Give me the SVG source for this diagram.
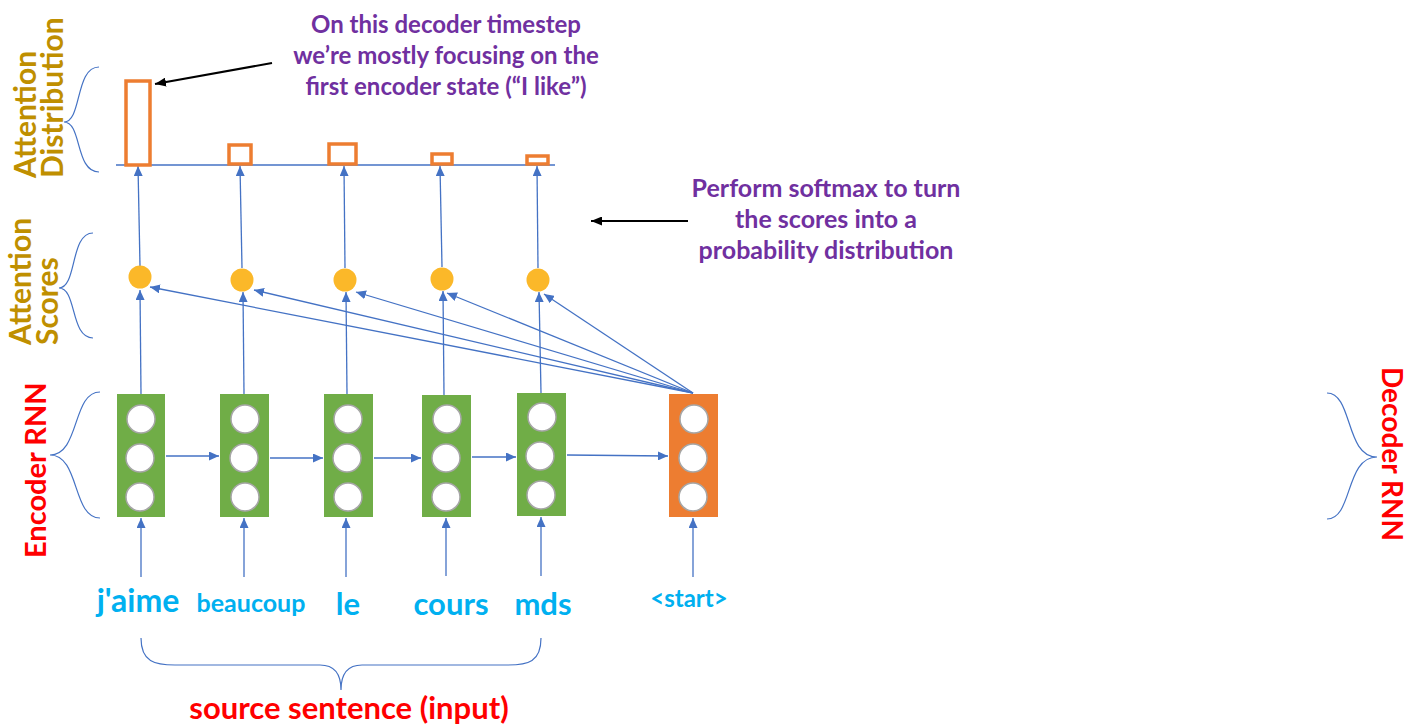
<svg xmlns="http://www.w3.org/2000/svg" width="1412" height="727" viewBox="0 0 1412 727">
<defs>
<marker id="ab" markerUnits="userSpaceOnUse" markerWidth="10" markerHeight="9" refX="10" refY="4.5" orient="auto"><path d="M0,0 L10,4.5 L0,9 z" fill="#4472C4"/></marker>
<marker id="ak" markerUnits="userSpaceOnUse" markerWidth="11" markerHeight="9" refX="11" refY="4.5" orient="auto"><path d="M0,0 L11,4.5 L0,9 z" fill="#000"/></marker>
<style>
.enc{fill:#70AD47}
.dec{fill:#ED7D31}
.cell{fill:#fff;stroke:#A6A6A6;stroke-width:1.5}
.dot{fill:#FBB829}
.bar{fill:#fff;stroke:#ED7D31;stroke-width:3.5}
.ln{stroke:#4472C4;stroke-width:1.3;fill:none}
.arr{stroke:#4472C4;stroke-width:1.3;fill:none;marker-end:url(#ab)}
.blk{stroke:#000;stroke-width:2;fill:none;marker-end:url(#ak)}
.br{stroke:#4472C4;stroke-width:1.2;fill:none}
text{font-family:Lato,"Liberation Sans",sans-serif;font-weight:bold}
.word{fill:#00B0F0;text-anchor:middle}
.gold{fill:#BF8F00;font-size:30px}
.red{fill:#FF0000}
.note{fill:#7030A0;text-anchor:middle}
</style>
</defs>

<g id="connectors">
<!-- input arrows -->
<line class="arr" x1="141" y1="577" x2="141" y2="518"/>
<line class="arr" x1="244" y1="577" x2="244" y2="518"/>
<line class="arr" x1="346" y1="577" x2="346" y2="518"/>
<line class="arr" x1="446" y1="576" x2="446" y2="518"/>
<line class="arr" x1="541" y1="576" x2="541" y2="517"/>
<line class="arr" x1="693" y1="577" x2="693" y2="518"/>
<!-- recurrent arrows -->
<line class="arr" x1="166" y1="456" x2="219" y2="456"/>
<line class="arr" x1="270" y1="458" x2="323" y2="458"/>
<line class="arr" x1="374" y1="458" x2="421" y2="458"/>
<line class="arr" x1="472" y1="457" x2="516" y2="457"/>
<line class="arr" x1="567" y1="455" x2="668" y2="456"/>
<!-- encoder to scores -->
<line class="arr" x1="141" y1="394" x2="140" y2="290"/>
<line class="arr" x1="244" y1="394" x2="243" y2="292"/>
<line class="arr" x1="347" y1="394" x2="346" y2="292"/>
<line class="arr" x1="444" y1="395" x2="443" y2="291"/>
<line class="arr" x1="541" y1="393" x2="539" y2="292"/>
<!-- decoder fan -->
<line class="arr" x1="693" y1="393" x2="150" y2="287"/>
<line class="arr" x1="693" y1="393" x2="254" y2="290"/>
<line class="arr" x1="693" y1="393" x2="356" y2="292"/>
<line class="arr" x1="693" y1="393" x2="447" y2="293"/>
<line class="arr" x1="693" y1="393" x2="544" y2="294"/>
<!-- scores to distribution -->
<line class="arr" x1="140" y1="266" x2="138" y2="166"/>
<line class="arr" x1="242" y1="268" x2="240" y2="166"/>
<line class="arr" x1="345" y1="268" x2="344" y2="166"/>
<line class="arr" x1="442" y1="267" x2="440" y2="166"/>
<line class="arr" x1="538" y1="268" x2="537" y2="166"/>
<!-- baseline -->
<line class="ln" x1="116" y1="165" x2="555" y2="165"/>
<!-- annotation arrows -->
<line class="blk" x1="272" y1="63" x2="155" y2="84"/>
<line class="blk" x1="688" y1="221" x2="591" y2="221"/>
</g>

<g id="braces">
<path class="br" d="M99,67 C75,67 82,122 64,122 C82,122 75,172 99,172"/>
<path class="br" d="M93,233 C70,233 77,288 59,288 C77,288 70,338 93,338"/>
<path class="br" d="M100,392 C72,392 80,455 50,455 C80,455 72,518 100,518"/>
<path class="br" d="M1327,393 C1353,393 1345,457 1377,457 C1345,457 1353,519 1327,519"/>
<path class="br" d="M141,638 C141,662 155,665 175,665 L320,665 C335,665 341,675 341,690 C341,675 347,665 362,665 L508,665 C528,665 541,662 541,638"/>
</g>

<g id="bars">
<rect class="bar" x="126" y="81" width="24" height="84"/>
<rect class="bar" x="229" y="145" width="22" height="19"/>
<rect class="bar" x="329" y="144" width="27" height="20"/>
<rect class="bar" x="432" y="154" width="20" height="10"/>
<rect class="bar" x="527" y="156" width="21" height="8"/>
</g>

<g id="scores">
<circle class="dot" cx="140" cy="277" r="11.5"/>
<circle class="dot" cx="242" cy="280" r="11.5"/>
<circle class="dot" cx="345" cy="280" r="11.5"/>
<circle class="dot" cx="442" cy="279" r="11.5"/>
<circle class="dot" cx="538" cy="280" r="11.5"/>
</g>

<g id="enc1"><rect class="enc" x="117" y="394" width="48" height="123"/><circle class="cell" cx="141" cy="419" r="14"/><circle class="cell" cx="140" cy="458" r="14"/><circle class="cell" cx="140" cy="497" r="14"/></g>
<g id="enc2"><rect class="enc" x="220" y="394" width="49" height="123"/><circle class="cell" cx="245" cy="419" r="14"/><circle class="cell" cx="244" cy="458" r="14"/><circle class="cell" cx="245" cy="497" r="14"/></g>
<g id="enc3"><rect class="enc" x="324" y="394" width="49" height="123"/><circle class="cell" cx="348" cy="419" r="14"/><circle class="cell" cx="347" cy="458" r="14"/><circle class="cell" cx="348" cy="497" r="14"/></g>
<g id="enc4"><rect class="enc" x="422" y="395" width="49" height="122"/><circle class="cell" cx="447" cy="419" r="14"/><circle class="cell" cx="446" cy="458" r="14"/><circle class="cell" cx="446" cy="497" r="14"/></g>
<g id="enc5"><rect class="enc" x="517" y="393" width="49" height="123"/><circle class="cell" cx="542" cy="417" r="14"/><circle class="cell" cx="540" cy="456" r="14"/><circle class="cell" cx="541" cy="495" r="14"/></g>
<g id="dec1"><rect class="dec" x="669" y="394" width="49" height="123"/><circle class="cell" cx="694" cy="419" r="14"/><circle class="cell" cx="693" cy="458" r="14"/><circle class="cell" cx="693" cy="497" r="14"/></g>

<g id="words">
<text class="word" x="138" y="612" font-size="32">j'aime</text>
<text class="word" x="251" y="612" font-size="25">beaucoup</text>
<text class="word" x="348" y="615" font-size="31">le</text>
<text class="word" x="451" y="615" font-size="31">cours</text>
<text class="word" x="543" y="615" font-size="31">mds</text>
<text class="word" x="689" y="607" font-size="24">&lt;start&gt;</text>
</g>

<g id="labels">
<text class="red" x="349" y="719" font-size="31" text-anchor="middle">source sentence (input)</text>
<text class="gold" transform="translate(36,178) rotate(-90)">Attention</text>
<text class="gold" transform="translate(63,178) rotate(-90)">Distribution</text>
<text class="gold" transform="translate(31,345) rotate(-90)">Attention</text>
<text class="gold" transform="translate(58,345) rotate(-90)">Scores</text>
<text class="red" font-size="29" transform="translate(46,558) rotate(-90)">Encoder RNN</text>
<text class="red" font-size="28" transform="translate(1382,367) rotate(90)">Decoder RNN</text>
</g>

<g id="notes">
<text class="note" x="446" y="33" font-size="24">On this decoder timestep</text>
<text class="note" x="446" y="64" font-size="24">we’re mostly focusing on the</text>
<text class="note" x="446" y="95" font-size="24">first encoder state (“I like”)</text>
<text class="note" x="826" y="197" font-size="25">Perform softmax to turn</text>
<text class="note" x="826" y="228" font-size="25">the scores into a</text>
<text class="note" x="826" y="259" font-size="25">probability distribution</text>
</g>
</svg>
